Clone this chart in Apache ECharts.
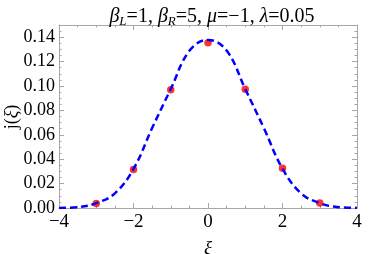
<!DOCTYPE html>
<html>
<head>
<meta charset="utf-8">
<script src="https://cdn.jsdelivr.net/npm/echarts@6/dist/echarts.min.js"></script>
<style>html,body{margin:0;padding:0;background:#fff;}#c{width:382px;height:254px;}</style>
</head>
<body>
<div id="c"></div>
<script>
// curve j(xi)
const curveX = [-4, -3.5, -3, -2.5, -2, -1.5, -1, -0.5, 0, 0.5, 1, 1.5, 2, 2.5, 3, 3.5, 4];
const curveY = [0.0001, 0.0007, 0.0040, 0.0120, 0.0320, 0.0655, 0.0975, 0.1288, 0.1378, 0.1290, 0.0975, 0.0655, 0.0322, 0.0120, 0.0040, 0.0007, 0.0001];
// sample points (red dots)
const dotX = [-3, -2, -1, 0, 1, 2, 3];
const dotY = [0.0036, 0.0316, 0.0970, 0.1355, 0.0973, 0.0325, 0.0041];
const xTicks = [-4, -2, 0, 2, 4];
const yTickStep = 0.02;

const serif = 'Liberation Serif';
const frame = '#a6a6a6';
const chart = echarts.init(document.getElementById('c'), null, {renderer: 'canvas'});

const commonAxis = {
  axisLine: {show: true, onZero: false, lineStyle: {color: frame, width: 1}},
  axisTick: {show: true, inside: true, length: 5, lineStyle: {color: frame}},
  minorTick: {show: true, splitNumber: 4, length: 2.5, lineStyle: {color: frame}},
  splitLine: {show: false},
  minorSplitLine: {show: false}
};

chart.setOption({
  animation: false,
  backgroundColor: '#fff',
  title: {
    left: 207, top: 0, textAlign: 'center',
    text: '{i|β}{s|L}{n|=1, }{i|β}{s|R}{n|=5, }{i|μ}{n|=−1, }{i|λ}{n|=0.05}',
    textStyle: {
      fontWeight: 'normal',
      rich: {
        i: {fontFamily: serif, fontStyle: 'italic', fontWeight: 'normal', fontSize: 20, color: '#000'},
        n: {fontFamily: serif, fontWeight: 'normal', fontSize: 20, color: '#000'},
        s: {fontFamily: serif, fontStyle: 'italic', fontWeight: 'normal', fontSize: 13, color: '#000', verticalAlign: 'bottom', padding: [10, 0, 0, 0]}
      }
    }
  },
  graphic: [{
    type: 'text', x: 12, y: 117, rotation: Math.PI / 2,
    style: {
      text: '{n|j(}{i|ξ}{n|)}', align: 'center', verticalAlign: 'middle',
      rich: {
        n: {fontFamily: serif, fontSize: 18, fill: '#000'},
        i: {fontFamily: serif, fontStyle: 'italic', fontSize: 18, fill: '#000'}
      }
    }
  }],
  grid: {left: 59, right: 25, top: 25, bottom: 46, containLabel: false, outerBoundsMode: 'none'},
  xAxis: [
    Object.assign({}, commonAxis, {
      type: 'value', min: xTicks[0], max: xTicks[xTicks.length - 1], interval: 2,
      position: 'bottom',
      axisLabel: {show: true, fontFamily: serif, fontSize: 19, color: '#000', margin: 5,
        formatter: v => (v < 0 ? '−' + Math.abs(v) : String(v))},
      name: 'ξ', nameLocation: 'middle', nameGap: 31,
      nameTextStyle: {fontFamily: serif, fontStyle: 'italic', fontSize: 19, color: '#000'}
    }),
    Object.assign({}, commonAxis, {
      type: 'value', min: -4, max: 4, interval: 2, position: 'top',
      axisLabel: {show: false}
    })
  ],
  yAxis: [
    Object.assign({}, commonAxis, {
      type: 'value', min: 0, max: 0.15, interval: yTickStep,
      position: 'left',
      axisLabel: {show: true, fontFamily: serif, fontSize: 18, color: '#000', margin: 4,
        showMaxLabel: false,
        formatter: v => v.toFixed(2)}
    }),
    Object.assign({}, commonAxis, {
      type: 'value', min: 0, max: 0.15, interval: yTickStep, position: 'right',
      axisLabel: {show: false}
    })
  ],
  series: [
    {
      type: 'scatter', xAxisIndex: 0, yAxisIndex: 0,
      data: dotX.map((x, i) => [x, dotY[i]]),
      symbol: 'circle', symbolSize: 7.5,
      itemStyle: {color: '#ff0000'}, z: 2
    },
    {
      type: 'line', xAxisIndex: 0, yAxisIndex: 0,
      data: curveX.map((x, i) => [x, curveY[i]]),
      smooth: 0.4, showSymbol: false, symbol: 'none',
      lineStyle: {color: '#0000ff', width: 2.5, type: [7, 4]}, z: 3
    }
  ]
});
</script>
</body>
</html>
